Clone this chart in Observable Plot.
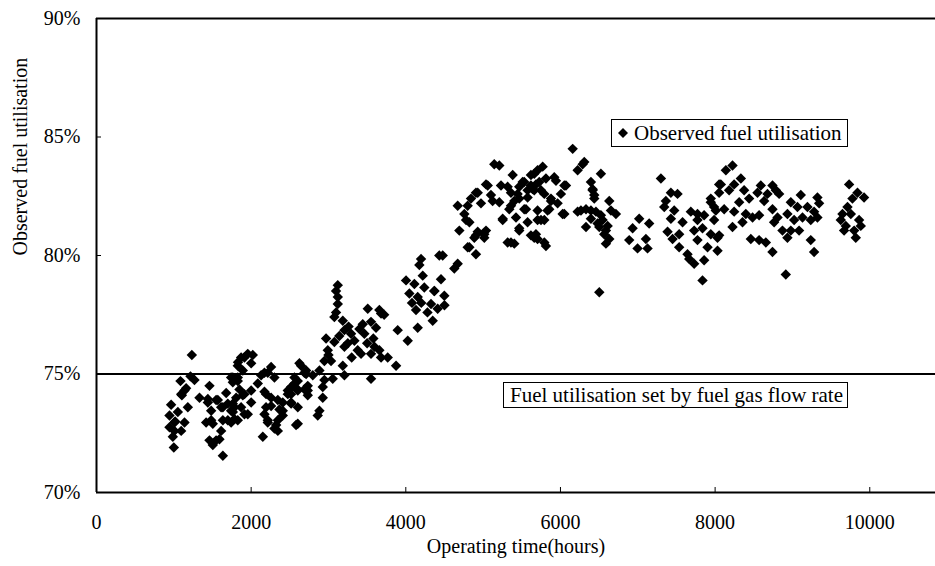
<!DOCTYPE html>
<html><head><meta charset="utf-8">
<script src="https://cdn.jsdelivr.net/npm/d3@7"></script>
<script src="https://cdn.jsdelivr.net/npm/@observablehq/plot@0.6"></script>
<style>
body{margin:0;background:#fff;}
#wrap{position:relative;width:935px;height:566px;font-family:"Liberation Serif","Times New Roman",serif;overflow:hidden;}
#wrap svg text{font-family:"Liberation Serif","Times New Roman",serif;}
.box{position:absolute;box-sizing:border-box;border:1px solid #000;background:#fff;font-size:21px;color:#000;display:flex;align-items:center;white-space:nowrap;}
</style></head><body><div id="wrap"></div>
<script>
const hours = [
1233,1215,1086,1267,1138,1104,965,1181,944,1052,1017,1138,944,1008,987,1000,1332,1461,1440,1483,1418,1504,1612,1461,1504,1634,1590,1547,1612,1677,1741,1698,1784,1763,1806,1827,1870,1763,1892,1956,2000,1849,1913,1956,1870,2000,2086,2129,2258,2215,2301,2172,2258,2193,2215,2323,2151,2366,2409,2474,2517,2603,2624,2689,2409,2345,2581,2603,2517,2689,2732,
1159,1095,1440,1569,1634,1698,1763,1483,1008,1634,1741,1095,1547,1827,1830,1763,
2021,1913,1827,2172,1741,2560,2711,2000,1892,2193,2474,2603,2732,2345,2258,2517,1784,1913,2409,1827,2172,2215,2345,2603,2301,
4197,4175,4433,4219,4003,4111,4046,4239,4369,4154,4326,4132,4412,4348,4154,3895,4025,3120,3098,3120,3120,3098,3076,3185,3508,3658,3680,3443,3550,3615,3206,3292,3464,2969,3076,3335,3206,3378,2991,3594,3658,3550,3421,3680,3766,3874,3033,3185,3206,3550,2646,2711,2797,2883,2947,3055,2947,2926,2560,2603,2732,2926,2883,2861,2517,
3000,3140,3250,3260,3300,3400,3500,3580,3720,4080,4200,4280,4500,
5144,5209,5382,5770,5618,5812,5942,5532,5059,5231,5467,5640,4930,5360,5748,6071,6222,4843,5123,5403,5575,5877,6006,4671,5209,5338,5532,5704,5833,6028,6222,4757,4779,5425,5253,5575,5748,4692,4930,5037,5467,4886,5015,5618,5704,5317,5403,5812,4800,4907,4477,4671,4627,4455,4369,4498,
5704,5037,5317,5511,4907,5101,5446,5575,5683,4800,4972,5360,5554,5467,4822,5253,5704,5467,4907,5015,5661,5360,4822,
6308,5661,5920,5726,6050,5618,5661,5791,6416,6437,5877,5963,5855,6050,6394,6523,5791,6480,6588,5683,5791,
6158,6287,6523,7299,6394,6416,6437,6631,7428,7514,7363,7342,6265,6330,6459,6653,6717,7471,7686,7772,7858,7944,7987,8052,6394,6545,7018,7147,7428,7579,7772,6330,6502,6610,6933,6566,6631,7385,7535,7729,7837,7944,8031,7105,6588,6889,6997,7126,7450,7535,7772,7902,7643,7665,7729,7858,7837,6502,
8225,8139,8333,8246,8074,8052,8181,8375,8591,8742,8785,8828,8677,8548,7944,8117,8311,8440,8634,9108,9323,8979,9065,9194,9345,9280,9130,9237,9323,8009,7987,8246,8397,8484,8569,8742,8807,8763,8935,9022,8871,8935,8979,9086,9237,9280,8052,8031,8225,8354,8462,8569,8656,8742,8914,9733,9841,9926,9776,9712,9647,9755,9625,9690,9884,9668,9798,9819,9862
];
const util = [
75.8,74.9,74.7,74.75,74.3,74.1,73.7,73.6,73.25,73.4,73.0,72.95,72.75,72.6,72.35,71.9,74.0,74.5,73.8,73.45,72.95,72.9,72.6,72.2,72.0,71.55,72.25,73.9,73.6,74.2,73.45,73.05,73.1,73.75,74.0,74.7,75.7,74.85,75.15,75.85,75.45,74.35,74.15,73.3,73.6,73.8,74.6,74.95,75.3,75.05,74.85,74.25,74.0,73.6,73.05,72.85,72.35,73.5,73.8,74.15,74.45,74.7,75.45,75.05,73.25,72.6,72.85,73.6,73.75,74.35,74.1,
74.4,74.15,73.95,73.9,73.6,73.75,73.4,73.05,72.95,73.05,72.95,72.6,72.2,74.85,75.5,74.65,
75.8,75.7,75.35,75.05,74.85,74.85,75.0,74.3,74.1,74.15,74.3,74.35,74.3,73.9,73.65,73.8,73.6,73.3,73.45,73.05,73.3,72.95,73.05,72.9,72.7,
79.85,79.6,80.0,79.15,78.95,78.8,78.4,78.65,78.5,78.25,77.95,77.7,77.75,77.25,76.95,76.85,76.4,78.75,78.5,78.25,77.95,77.6,77.4,77.25,77.75,77.7,77.55,77.1,77.2,76.95,76.85,76.7,76.7,76.5,76.35,76.4,76.15,76.0,76.0,76.15,76.0,75.85,75.85,75.7,75.7,75.35,75.55,75.35,74.95,74.8,75.35,75.15,74.95,75.15,75.55,74.8,74.75,74.45,74.6,74.3,74.5,74.0,73.45,73.25,74.15,
75.8,76.6,76.3,77.0,75.7,76.9,76.3,76.5,77.5,78.0,78.0,77.6,77.9,
83.85,83.8,83.4,83.75,83.4,83.25,83.15,83.1,82.95,82.95,82.9,82.8,82.65,82.65,82.75,82.95,83.6,82.4,82.3,82.3,82.45,82.4,82.6,82.1,82.25,81.95,81.95,81.9,81.9,81.75,81.85,81.75,81.5,81.6,81.5,81.4,81.5,81.05,81.0,81.05,81.05,80.75,80.75,80.85,80.7,80.55,80.5,80.4,80.35,80.05,80.0,79.65,79.45,79.0,78.5,78.3,
83.6,83.0,82.9,83.1,82.65,82.55,82.6,82.75,83.0,82.1,82.2,82.1,81.95,82.4,81.4,81.55,81.5,81.15,80.85,80.9,80.75,80.55,80.35,
83.95,83.45,83.3,83.1,82.95,82.95,82.75,82.6,82.75,82.4,82.3,82.2,81.95,81.75,81.9,81.7,81.5,81.35,81.05,80.9,80.55,
84.5,83.85,83.45,83.25,83.1,82.8,82.55,82.3,82.65,82.6,82.3,82.05,81.9,81.95,81.85,81.9,81.75,81.9,81.85,81.75,81.7,82.4,82.05,83.0,81.55,81.5,81.55,81.35,81.55,81.4,81.5,81.2,81.2,81.25,81.15,80.9,80.7,81.0,80.9,81.05,81.15,80.9,80.75,80.7,80.5,80.65,80.3,80.3,80.7,80.35,80.65,80.35,80.05,79.85,79.65,79.8,78.95,78.45,
83.8,83.6,83.25,83.0,83.0,82.65,82.75,82.75,82.95,82.95,82.75,82.6,82.6,82.65,82.25,81.95,82.25,82.4,82.3,82.55,82.45,82.25,82.05,82.05,82.2,81.85,81.6,81.5,81.6,81.9,81.5,81.85,81.75,81.6,81.7,81.95,81.6,81.4,81.75,81.5,81.05,80.75,81.05,81.05,80.65,80.15,80.85,80.2,81.2,81.4,80.7,80.65,80.55,80.15,79.2,83.0,82.65,82.45,82.4,82.05,81.75,81.75,81.5,81.25,81.25,81.05,81.05,80.75,81.5
];
const xTicks = [0,2000,4000,6000,8000,10000];
const yTicks = [70,75,80,85,90];
const setPoint = [75];
const xLabel = "Operating time(hours)";
const yLabel = "Observed fuel utilisation";
const legendObserved = "Observed fuel utilisation";
const legendSet = "Fuel utilisation set by fuel gas flow rate";

const data = hours.map((h,i)=>({h, u: util[i]}));
const chart = Plot.plot({
  width:935, height:566, marginLeft:96, marginRight:0, marginTop:18, marginBottom:74,
  style:"font-family:'Liberation Serif','Times New Roman',serif;font-size:20px;background:#fff;color:#000;overflow:visible;",
  x:{domain:[0,10850]},
  y:{domain:[yTicks[0], yTicks[yTicks.length-1]]},
  marks:[
    Plot.dot(data,{x:"h",y:"u",symbol:"diamond2",r:4.7,fill:"#000",stroke:"none"}),
    Plot.ruleY(setPoint,{stroke:"#000",strokeWidth:2}),
    Plot.ruleY([yTicks[0], yTicks[yTicks.length-1]],{stroke:"#000",strokeWidth:2}),
    Plot.ruleX([xTicks[0]],{stroke:"#000",strokeWidth:2}),
    Plot.axisX(xTicks,{tickSize:-5, tickPadding:27, fontSize:20, label:null, tickFormat:d=>String(d)}),
    Plot.axisY(yTicks,{tickSize:-5, tickPadding:21, fontSize:20, label:null, tickFormat:d=>d+"%"}),
    Plot.text([xLabel],{frameAnchor:"bottom", dy:60, fontSize:20}),
    Plot.text([yLabel],{frameAnchor:"left", dx:-76, rotate:-90, fontSize:20})
  ]
});
const wrap = document.getElementById("wrap");
wrap.appendChild(chart);
const diamond = '<svg width="12" height="12" style="margin:0 5px 0 5px"><path d="M6,1L11,6L6,11L1,6Z" fill="#000"/></svg>';
const b1 = document.createElement("div");
b1.className="box"; b1.style.left="611px"; b1.style.top="119px"; b1.style.width="237px"; b1.style.height="28px";
b1.innerHTML = diamond + "<span>"+legendObserved+"</span>";
wrap.appendChild(b1);
const b2 = document.createElement("div");
b2.className="box"; b2.style.left="503px"; b2.style.top="382px"; b2.style.width="345px"; b2.style.height="26px"; b2.style.paddingLeft="6px";
b2.textContent = legendSet;
wrap.appendChild(b2);
</script></body></html>
